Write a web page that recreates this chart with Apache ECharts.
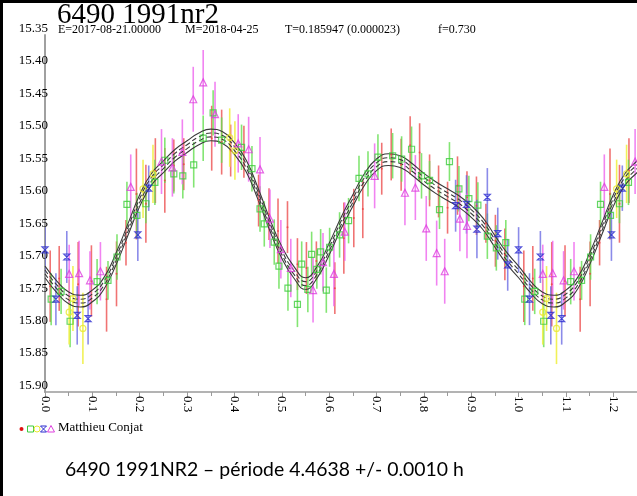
<!DOCTYPE html>
<html>
<head>
<meta charset="utf-8">
<script src="https://cdn.jsdelivr.net/npm/echarts@6/dist/echarts.min.js"></script>
<style>html,body{margin:0;padding:0;background:#fff}#c{width:637px;height:496px}</style>
</head>
<body>
<div id="c"></div>
<script>
// ---- data (phase, magnitude, error) ----
const greenPhase = [0.013,0.034,0.053,0.110,0.133,0.152,0.173,0.194,0.213,0.232,0.253,0.272,0.291,0.314,0.334,0.355,0.373,0.415,0.437,0.454,0.463,0.484,0.494,0.513,0.533,0.542,0.555,0.563,0.574,0.582,0.594,0.601,0.622,0.641,0.663,0.682,0.703,0.734,0.753,0.774,0.795,0.812,0.833,0.854,0.874,0.895,0.914,0.934,0.953,0.973];
const greenMag   = [15.757,15.745,15.791,15.730,15.728,15.692,15.611,15.628,15.610,15.577,15.543,15.564,15.567,15.550,15.509,15.470,15.512,15.523,15.556,15.618,15.641,15.669,15.706,15.740,15.765,15.703,15.742,15.688,15.711,15.684,15.743,15.677,15.658,15.636,15.571,15.564,15.538,15.536,15.541,15.526,15.567,15.574,15.619,15.545,15.587,15.602,15.612,15.660,15.678,15.670];
const greenErr   = [0.040,0.035,0.040,0.035,0.030,0.035,0.035,0.035,0.030,0.035,0.035,0.030,0.035,0.035,0.035,0.035,0.035,0.035,0.035,0.035,0.035,0.035,0.035,0.035,0.035,0.035,0.035,0.035,0.030,0.035,0.035,0.030,0.035,0.035,0.035,0.035,0.035,0.035,0.035,0.035,0.035,0.030,0.030,0.030,0.035,0.035,0.035,0.035,0.035,0.035];

const bluePhase = [0.000,0.023,0.046,0.068,0.091,0.196,0.219,0.867,0.890,0.912,0.934,0.956,0.977];
const blueMag   = [15.681,15.757,15.692,15.782,15.787,15.658,15.586,15.613,15.611,15.649,15.600,15.656,15.704];
const blueErr   = [0.035,0.040,0.040,0.045,0.040,0.040,0.035,0.040,0.045,0.045,0.045,0.040,0.040];

const magentaPhase = [0.051,0.072,0.095,0.117,0.181,0.246,0.269,0.290,0.313,0.334,0.359,0.408,0.430,0.454,0.475,0.498,0.519,0.566,0.587,0.610,0.633,0.696,0.760,0.782,0.805,0.827,0.844,0.876,0.891];
const magentaMag   = [15.718,15.717,15.728,15.714,15.584,15.545,15.554,15.530,15.449,15.423,15.472,15.517,15.526,15.557,15.633,15.680,15.709,15.743,15.700,15.718,15.653,15.567,15.593,15.585,15.648,15.686,15.714,15.633,15.644];
const magentaErr   = [0.045,0.050,0.045,0.045,0.050,0.050,0.045,0.050,0.050,0.050,0.050,0.045,0.050,0.050,0.045,0.045,0.045,0.050,0.045,0.050,0.045,0.050,0.050,0.050,0.050,0.050,0.050,0.050,0.050];

const yellowPhase = [0.051,0.059,0.080,0.207,0.228,0.390,0.401];
const yellowMag   = [15.777,15.756,15.802,15.587,15.564,15.508,15.528];
const yellowErr   = [0.050,0.050,0.055,0.045,0.045,0.045,0.045];

const redPhase = [0.011,0.030,0.070,0.098,0.130,0.151,0.171,0.193,0.213,0.233,0.253,0.272,0.293,0.352,0.373,0.392,0.420,0.451,0.473,0.492,0.512,0.533,0.552,0.573,0.612,0.631,0.652,0.671,0.711,0.731,0.752,0.771,0.791,0.812,0.831,0.850,0.871,0.891,0.911,0.931,0.951,0.971];
const redMag   = [15.737,15.725,15.734,15.729,15.757,15.718,15.670,15.595,15.610,15.559,15.574,15.551,15.549,15.509,15.515,15.528,15.530,15.605,15.626,15.652,15.646,15.703,15.709,15.698,15.740,15.663,15.632,15.618,15.556,15.534,15.550,15.520,15.531,15.574,15.591,15.616,15.582,15.600,15.613,15.640,15.667,15.688];
const redErr   = [0.055,0.050,0.065,0.055,0.050,0.050,0.035,0.070,0.060,0.050,0.050,0.040,0.040,0.050,0.050,0.040,0.040,0.040,0.040,0.050,0.040,0.040,0.040,0.030,0.040,0.055,0.045,0.045,0.040,0.040,0.040,0.045,0.045,0.040,0.040,0.040,0.045,0.040,0.045,0.030,0.040,0.040];

// Fourier fit (centre line), phase 0..1
const fitPhase = [0,0.025,0.05,0.075,0.1,0.125,0.15,0.175,0.2,0.225,0.25,0.275,0.3,0.325,0.35,0.375,0.4,0.425,0.45,0.475,0.5,0.525,0.55,0.575,0.6,0.625,0.65,0.675,0.7,0.725,0.75,0.775,0.8,0.825,0.85,0.875,0.9,0.925,0.95,0.975,1.0];
const fitMag   = [15.715,15.738,15.755,15.760,15.752,15.732,15.695,15.650,15.605,15.572,15.553,15.535,15.522,15.510,15.504,15.508,15.525,15.552,15.595,15.643,15.685,15.715,15.733,15.715,15.680,15.640,15.605,15.572,15.550,15.542,15.545,15.557,15.572,15.585,15.596,15.607,15.622,15.641,15.668,15.694,15.715];
const fitBand  = [-0.009,-0.003,0.003,0.009];

const yTicks = [15.35,15.40,15.45,15.50,15.55,15.60,15.65,15.70,15.75,15.80,15.85,15.90];
const xTicks = [0.0,0.1,0.2,0.3,0.4,0.5,0.6,0.7,0.8,0.9,1.0,1.1,1.2];

// ---- build ----
const SERIF = 'serif';
const PMAX = 1.25;
function folded(ph, mg, er) {
  const out = [];
  for (let i = 0; i < ph.length; i++) out.push([ph[i], mg[i], er[i]]);
  for (let i = 0; i < ph.length; i++) if (ph[i] + 1 <= PMAX + 0.01) out.push([ph[i] + 1, mg[i], er[i]]);
  return out;
}
function fitLine(off) {
  const out = [];
  for (let i = 0; i < fitPhase.length; i++) out.push([fitPhase[i], fitMag[i] + off]);
  for (let i = 1; i < fitPhase.length; i++) if (fitPhase[i] + 1 <= PMAX + 0.03) out.push([fitPhase[i] + 1, fitMag[i] + off]);
  return out;
}
const groups = [
  {name:'red', data: folded(redPhase, redMag, redErr), bar:'rgba(236,80,80,0.8)', mk:'#ee4040', symbol:'circle', size:2, fill:true},
  {name:'green', data: folded(greenPhase, greenMag, greenErr), bar:'rgba(100,222,80,0.8)', mk:'#3ccc3c', symbol:'rect', size:6},
  {name:'yellow', data: folded(yellowPhase, yellowMag, yellowErr), bar:'rgba(240,240,70,0.9)', mk:'#e8e830', symbol:'circle', size:6},
  {name:'blue', data: folded(bluePhase, blueMag, blueErr), bar:'rgba(100,100,225,0.75)', mk:'#2a2ad0', symbol:'path://M0,0 L10,0 L0,10 L10,10 Z', size:6},
  {name:'magenta', data: folded(magentaPhase, magentaMag, magentaErr), bar:'rgba(238,100,238,0.8)', mk:'#dd40dd', symbol:'triangle', size:7}
];

const series = [];
groups.forEach(g => {
  series.push({
    type:'custom', name:g.name+'-err', clip:true, z:2,
    data:g.data, encode:{x:0,y:1},
    renderItem:function(params, api){
      const x = api.value(0), m = api.value(1), e = api.value(2);
      const p1 = api.coord([x, m - e]), p2 = api.coord([x, m + e]);
      return {type:'line', shape:{x1:p1[0],y1:p1[1],x2:p2[0],y2:p2[1]}, style:{stroke:g.bar, lineWidth:1.6}};
    }
  });
});
fitBand.forEach(off => {
  series.push({
    type:'line', data:fitLine(off), smooth:0.5, showSymbol:false, silent:true, z:4, clip:true,
    lineStyle:{color:'#3a3a3a', width:1.1, type: Math.abs(off) < 0.005 ? [5,3] : 'solid'}
  });
});
groups.forEach(g => {
  series.push({
    type:'scatter', name:g.name, data:g.data.map(d=>[d[0],d[1]]), symbol:g.symbol, symbolSize:g.size, z:5, clip:true,
    itemStyle: g.fill ? {color:g.mk} : {color:'rgba(0,0,0,0)', borderColor:g.mk, borderWidth:1.2}
  });
});

const chart = echarts.init(document.getElementById('c'), null, {renderer:'canvas'});
chart.setOption({
  backgroundColor:'#fff',
  animation:false,
  textStyle:{fontFamily:SERIF},
  grid:{left:45, top:35, width:592.5, height:357, containLabel:false},
  xAxis:{
    type:'value', min:0, max:PMAX, interval:0.1,
    axisLine:{show:true, lineStyle:{color:'#9a9a9a', width:1.5}},
    axisTick:{show:true, length:5, lineStyle:{color:'#9a9a9a'}},
    minorTick:{show:true, splitNumber:2, length:4, lineStyle:{color:'#9a9a9a'}},
    splitLine:{show:false},
    axisLabel:{rotate:-90, margin:4, fontFamily:SERIF, fontSize:13, color:'#000', showMaxLabel:false,
      formatter:function(v){ const k = Math.round(v*10); return Math.abs(v*10-k) < 1e-6 && k <= 12 ? xTicks[k].toFixed(1) : ''; }}
  },
  yAxis:{
    type:'value', inverse:true, min:15.35, max:15.90, interval:0.05,
    axisLine:{show:true, lineStyle:{color:'#a0a0a0', width:2}},
    axisTick:{show:false},
    splitLine:{show:false},
    axisLabel:{margin:-3, fontFamily:SERIF, fontSize:13, color:'#000', verticalAlign:'bottom', lineHeight:13,
      formatter:function(v){ const k = Math.round((v-15.35)/0.05); return yTicks[k] !== undefined ? yTicks[k].toFixed(2) : ''; }}
  },
  series: series,
  graphic:[
    {type:'rect', shape:{x:0,y:0,width:637,height:3}, style:{fill:'#000'}, z:100},
    {type:'rect', shape:{x:0,y:0,width:3,height:496}, style:{fill:'#000'}, z:100},
    {type:'text', left:57, top:1, style:{text:'6490 1991nr2', font:'29px serif', fill:'#000'}, z:100},
    {type:'text', left:58, top:24, style:{text:'E=2017-08-21.00000', font:'12px serif', fill:'#000'}, z:100},
    {type:'text', left:185, top:24, style:{text:'M=2018-04-25', font:'12px serif', fill:'#000'}, z:100},
    {type:'text', left:285, top:24, style:{text:'T=0.185947 (0.000023)', font:'12px serif', fill:'#000'}, z:100},
    {type:'text', left:438, top:24, style:{text:'f=0.730', font:'12px serif', fill:'#000'}, z:100},
    {type:'circle', shape:{cx:21.5, cy:429, r:2}, style:{fill:'#e01010'}, z:100},
    {type:'rect', shape:{x:27.5, y:426, width:6, height:6}, style:{fill:'none', stroke:'#3ccc3c', lineWidth:1}, z:100},
    {type:'circle', shape:{cx:37, cy:429, r:3}, style:{fill:'none', stroke:'#e8e830', lineWidth:1}, z:100},
    {type:'polygon', shape:{points:[[40.5,426],[46.5,426],[40.5,432],[46.5,432]]}, style:{fill:'none', stroke:'#2a2ad0', lineWidth:1}, z:100},
    {type:'polygon', shape:{points:[[51,425.5],[54.5,432],[47.5,432]]}, style:{fill:'none', stroke:'#dd40dd', lineWidth:1}, z:100},
    {type:'text', left:58, top:421, style:{text:'Matthieu Conjat', font:'13px serif', fill:'#000'}, z:100},
    {type:'text', left:65, top:460, style:{text:'6490 1991NR2 – période 4.4638 +/- 0.0010 h', font:'19.4px Lato, sans-serif', fill:'#000'}, z:100}
  ]
});
</script>
</body>
</html>
